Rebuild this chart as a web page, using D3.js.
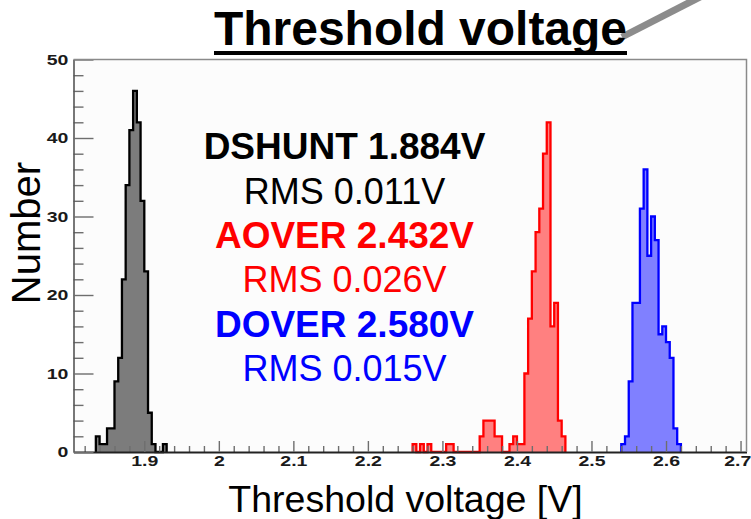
<!DOCTYPE html>
<html>
<head>
<meta charset="utf-8">
<script src="https://cdn.jsdelivr.net/npm/d3@7"></script>
<style>
    body { margin: 0; background: #fff; }
    svg { display: block; font-family: "Liberation Sans", Arial, sans-serif; }
</style>
</head>
<body>
<div id="chart"></div>
<script>
// histogram bins (width 0.005 V), counts
var binWidth = 0.005;

var dshuntStart = 1.835;
var dshuntCounts = [2, 1, 1, 3, 3, 9, 12, 22, 34, 41, 46, 42, 32, 23, 5, 1, 0, 0, 1];

var aoverStart = 2.260;
var aoverCounts = [1, 0, 1, 0, 1, 0, 0, 0, 0, 1, 1, 0, 0, 0, 0, 0, 0, 0,
    2, 4, 4, 4, 2, 2, 0, 0, 1, 2, 1, 1,
    10, 17, 23, 28, 31, 38, 42, 16, 19, 4, 2];

var doverStart = 2.540;
var doverCounts = [1, 2, 9, 19, 19, 31, 36, 25, 30, 27, 15, 16, 14, 12, 3, 1];

var seriesNames = ["DSHUNT", "AOVER", "DOVER"];
var seriesMeans = ["1.884V", "2.432V", "2.580V"];
var seriesRms = ["0.011V", "0.026V", "0.015V"];

var xTickLabels = ["1.9", "2", "2.1", "2.2", "2.3", "2.4", "2.5", "2.6", "2.7"];
var yTickLabels = ["0", "10", "20", "30", "40", "50"];

var titleText = "Threshold voltage";
var xTitle = "Threshold voltage [V]";
var yTitle = "Number";

// styles
var lineColors = ["#000000", "#ff0000", "#0000ff"],
    fillColors = ["#7c7c7c", "#ff8080", "#8080ff"];

var width = 751,
    height = 519;

var svg = d3.select("#chart").append("svg")
    .attr("width", width)
    .attr("height", height);

var x = d3.scaleLinear().domain([1.805, 2.708]).range([73.5, 746.5]);
var y = d3.scaleLinear().domain([0, 50]).range([452, 59.5]);

// plot background
svg.append("rect")
    .attr("x", x.range()[0])
    .attr("y", y.range()[1])
    .attr("width", x.range()[1] - x.range()[0])
    .attr("height", y.range()[0] - y.range()[1])
    .style("fill", "#fcfcfc");

// histograms
function binPoints(start, counts) {
    var pts = [{v: start, c: 0}];
    counts.forEach(function (c, i) {
        pts.push({v: start + i * binWidth, c: c});
    });
    pts.push({v: start + counts.length * binWidth, c: 0});
    return pts;
}

var area = d3.area()
    .curve(d3.curveStepAfter)
    .x(function (d) { return x(d.v); })
    .y0(y(0))
    .y1(function (d) { return y(d.c); });

var line = d3.line()
    .curve(d3.curveStepAfter)
    .x(function (d) { return x(d.v); })
    .y(function (d) { return y(d.c); });

var hists = [
    binPoints(dshuntStart, dshuntCounts),
    binPoints(aoverStart, aoverCounts),
    binPoints(doverStart, doverCounts)
];

var hist = svg.selectAll(".hist")
    .data(hists)
    .enter().append("g")
    .attr("class", "hist");

hist.append("path")
    .attr("d", function (d) { return area(d); })
    .style("fill", function (d, i) { return fillColors[i]; });

hist.append("path")
    .attr("d", function (d) { return line(d); })
    .style("fill", "none")
    .style("stroke", function (d, i) { return lineColors[i]; })
    .style("stroke-width", 2.3)
    .style("stroke-linejoin", "miter");

// axes
var xMajor = xTickLabels.map(Number);
var xMinor = d3.range(91).map(function (i) { return +(1.82 + i * 0.01).toFixed(2); })
    .filter(function (v) { return Math.round(v * 100) % 2 === 0 && Math.round(v * 100) % 10 !== 0 && v < 2.708; });
var yMajor = yTickLabels.map(Number);
var yMinor = d3.range(0, 51, 2).filter(function (v) { return v % 10 !== 0; });

svg.append("g")
    .attr("class", "x minor")
    .attr("transform", "translate(0," + y(0) + ")")
    .call(d3.axisBottom(x).tickValues(xMinor).tickSize(-6).tickSizeOuter(0).tickFormat(""));

var xAxis = svg.append("g")
    .attr("class", "x axis")
    .attr("transform", "translate(0," + y(0) + ")")
    .call(d3.axisBottom(x).tickValues(xMajor).tickSize(-11).tickSizeOuter(0).tickPadding(3)
        .tickFormat(function (d, i) { return xTickLabels[i]; }));

svg.append("g")
    .attr("class", "y minor")
    .attr("transform", "translate(" + x.range()[0] + ",0)")
    .call(d3.axisLeft(y).tickValues(yMinor).tickSize(-10).tickSizeOuter(0).tickFormat(""));

var yAxis = svg.append("g")
    .attr("class", "y axis")
    .attr("transform", "translate(" + x.range()[0] + ",0)")
    .call(d3.axisLeft(y).tickValues(yMajor).tickSize(-20).tickSizeOuter(0).tickPadding(4)
        .tickFormat(function (d, i) { return yTickLabels[i]; }));

svg.selectAll(".tick line")
    .style("stroke", "#6e6e6e")
    .style("stroke-width", 1.4);

svg.selectAll(".axis .tick text")
    .attr("transform", "scale(1.3,1)")
    .style("font-family", "'Liberation Sans', Arial, sans-serif")
    .style("font-size", "15px")
    .style("font-weight", "bold")
    .style("fill", "#1a1a1a");

// last label sits on the page edge
xAxis.selectAll(".tick text")
    .filter(function (d, i) { return i === xTickLabels.length - 1; })
    .attr("dx", -2.5);

svg.selectAll(".minor .domain").remove();
xAxis.select(".domain").style("stroke", "#222").style("stroke-width", 2);
yAxis.select(".domain").style("stroke", "#555").style("stroke-width", 1.6);

// frame top / right
svg.append("path")
    .attr("d", "M" + x.range()[0] + "," + y(50) + "H" + x.range()[1] + "V" + y(0))
    .style("fill", "none")
    .style("stroke", "#8a8a8a")
    .style("stroke-width", 1.5);

// stats text
var statY = 159.3, statStep = 44.3, statX = 344.5;
seriesNames.forEach(function (name, i) {
    svg.append("text")
        .attr("x", statX)
        .attr("y", statY + statStep * 2 * i)
        .attr("text-anchor", "middle")
        .style("font-size", "37px")
        .style("font-weight", "bold")
        .style("fill", lineColors[i])
        .text(name + " " + seriesMeans[i]);
    svg.append("text")
        .attr("x", statX)
        .attr("y", statY + statStep * (2 * i + 1))
        .attr("text-anchor", "middle")
        .style("font-size", "36px")
        .style("fill", lineColors[i])
        .text("RMS " + seriesRms[i]);
});

// axis titles
svg.append("text")
    .attr("x", 405.5)
    .attr("y", 512)
    .attr("text-anchor", "middle")
    .style("font-size", "37.5px")
    .text(xTitle);

svg.append("text")
    .attr("transform", "translate(40,233) rotate(-90)")
    .attr("text-anchor", "middle")
    .style("font-size", "40px")
    .text(yTitle);

// slide title with pointer line
svg.append("line")
    .attr("x1", 622).attr("y1", 37)
    .attr("x2", 702).attr("y2", -4)
    .style("stroke", "#8c8c8c")
    .style("stroke-width", 7);

svg.append("text")
    .attr("x", 420.5)
    .attr("y", 45)
    .attr("text-anchor", "middle")
    .attr("textLength", 413)
    .attr("lengthAdjust", "spacingAndGlyphs")
    .style("font-size", "48px")
    .style("font-weight", "bold")
    .text(titleText);

svg.append("rect")
    .attr("x", 214).attr("y", 51)
    .attr("width", 413).attr("height", 4)
    .style("fill", "#000");
</script>
</body>
</html>
